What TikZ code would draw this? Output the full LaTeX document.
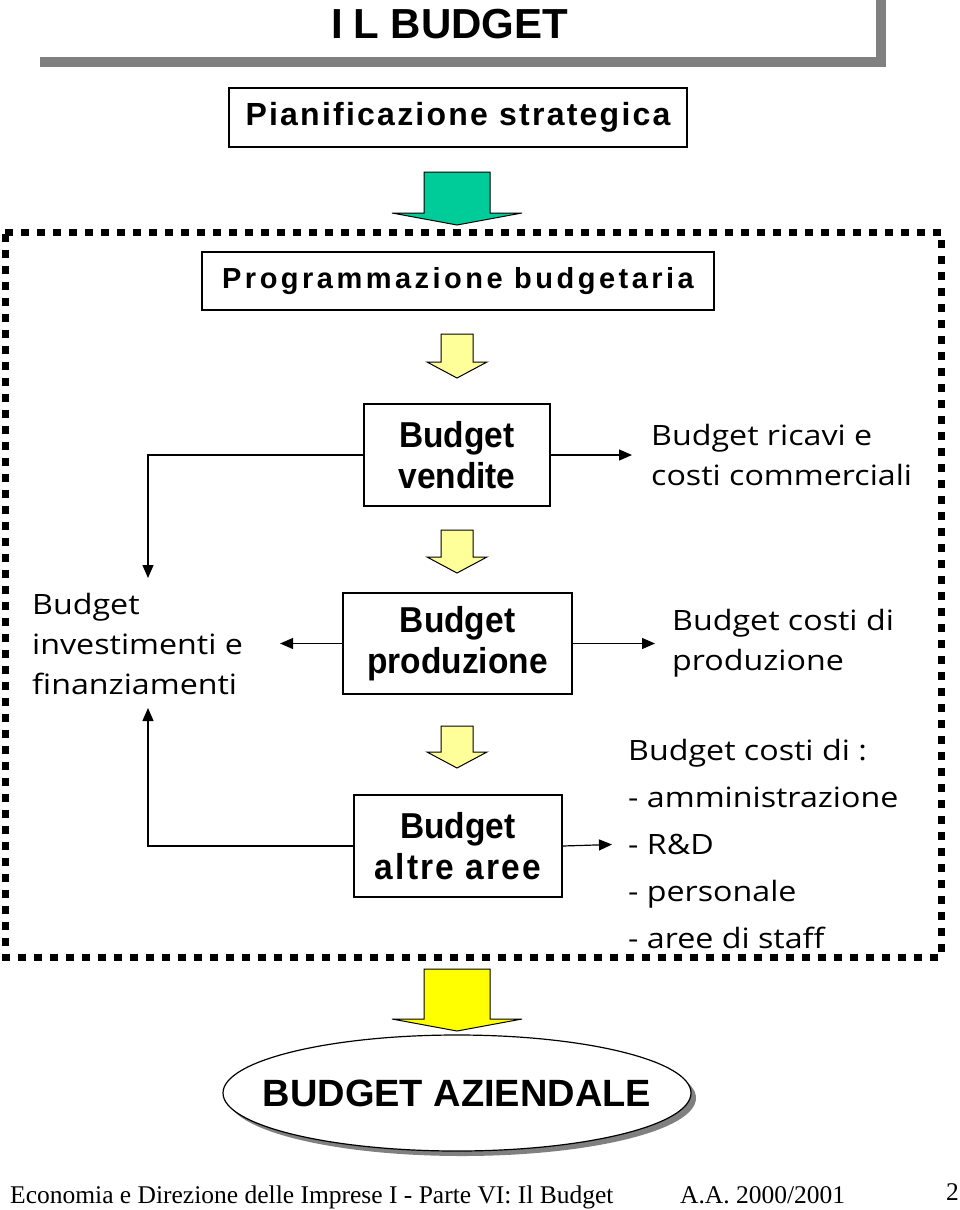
\documentclass[tikz,border=0pt]{standalone}
\usepackage{fontspec}
\setmainfont{Liberation Serif}
\newfontfamily\narrowbf[FakeStretch=0.93]{Liberation Sans Bold}
\newfontfamily\altbf[FakeStretch=0.93,LetterSpace=6]{Liberation Sans Bold}
\newfontfamily\widebf[LetterSpace=7]{Liberation Sans Bold}
\newfontfamily\widerbf[LetterSpace=12]{Liberation Sans Bold}
\newfontfamily\plainbf{Liberation Sans Bold}
\newfontfamily\handf[FakeStretch=1.15]{Open Sans}
\usetikzlibrary{arrows.meta,shapes.geometric,calc}
\definecolor{greenarr}{HTML}{00CC99}
\definecolor{paleyel}{HTML}{FFFF99}
\definecolor{brightyel}{HTML}{FFFF00}
\definecolor{shadowgrey}{HTML}{808080}
\tikzset{
  boxnode/.style={draw=black, line width=1.4pt, fill=white, inner sep=0pt, align=center, font=\narrowbf\fontsize{36}{41}\selectfont},
  hand/.style={inner sep=0pt, align=left, font=\handf\fontsize{28}{40}\selectfont},
  conn/.style={line width=1.2pt, -{Triangle[length=13pt,width=11pt]}},
  bigarrow/.style={draw=black, line width=1pt},
}
\begin{document}
\begin{tikzpicture}[x=1pt,y=-1pt]
\useasboundingbox (0,0) rectangle (960,1210);
% title shadow
\fill[shadowgrey] (40,57) rectangle (886,67);
\fill[shadowgrey] (876,0) rectangle (886,67);
\node (title) at (450,24) {\plainbf\fontsize{42}{48}\selectfont I\kern10pt L BUDGET};
% pianificazione
\node[boxnode, minimum width=458pt, minimum height=59pt, font=\widebf\fontsize{32}{40}\selectfont] (pian) at (458,117.5) {Pianificazione strategica};
% green arrow
\filldraw[bigarrow, fill=greenarr] (424,172) -- (490,172) -- (490,213) -- (522,213) -- (457,225) -- (392,213) -- (424,213) -- cycle;
% dotted frame
\draw[line width=7pt, dash pattern=on 8pt off 8pt] (5,232) -- (941,232) -- (941,957) -- (5,957) -- cycle;
% programmazione
\node[boxnode, minimum width=512pt, minimum height=58pt, font=\widerbf\fontsize{29}{40}\selectfont] (prog) at (458,281) {Programmazione budgetaria};
% yellow arrows
\foreach \ya/\yb/\yc in {334/362/378, 530/557/573, 726/752/768}{
  \filldraw[bigarrow, fill=paleyel] (441,\ya) -- (473,\ya) -- (473,\yb) -- (487,\yb) -- (457,\yc) -- (427,\yb) -- (441,\yb) -- cycle;
}
% boxes
\node[boxnode, minimum width=186pt, minimum height=102pt] (vend) at (457,455) {Budget\\vendite};
\node[boxnode, minimum width=229pt, minimum height=101pt] (prod) at (457.5,643.5) {Budget\\produzione};
\node[boxnode, minimum width=208pt, minimum height=102pt] (altre) at (458,846) {Budget\\{\altbf altre aree}};
% hand texts
\node[hand, anchor=west] (ricavi) at (651,455) {Budget ricavi e\\costi commerciali};
\node[hand, anchor=west] (inv) at (32,643.5) {Budget\\investimenti e\\finanziamenti};
\node[hand, anchor=west] (costip) at (672,643.5) {Budget costi di\\produzione};
\node[hand, anchor=west, font=\handf\fontsize{28}{47}\selectfont] (altri) at (628,844) {Budget costi di :\\- amministrazione\\- R\&D\\- personale\\- aree di staff};
% connectors
\coordinate (lt) at (148,578);
\coordinate (lb) at (148,708);
\draw[conn] (vend.east) -- (ricavi.west) [shorten >=19pt];
\draw[conn] (vend.west) -| (lt);
\draw[conn] (prod.west) -- (inv.east) [shorten >=37pt];
\draw[conn] (prod.east) -- (costip.west) [shorten >=17pt];
\draw[conn] (altre.west) -| (lb);
\draw[conn] (altre.east) -- (altri.west) [shorten >=16pt];
% bottom bright arrow
\filldraw[bigarrow, fill=brightyel] (424,969) -- (490,969) -- (490,1019) -- (522,1019) -- (457,1031) -- (392,1019) -- (424,1019) -- cycle;
% ellipse
\fill[shadowgrey] (462,1098) ellipse [x radius=234pt, y radius=58pt];
\node[ellipse, draw=black, line width=1.2pt, fill=white, minimum width=468pt, minimum height=116pt, inner sep=0pt] (azi) at (457,1093) {};
\node[inner sep=0pt, font=\plainbf\fontsize{38}{40}\selectfont] (azitext) at (azi.center) {BUDGET AZIENDALE};
% footer
\node[anchor=base west, inner sep=0pt, font=\fontsize{25.5}{30}\selectfont] (foot1) at (10,1203) {Economia e Direzione delle Imprese I - Parte VI: Il Budget};
\node[anchor=base west, inner sep=0pt, font=\fontsize{25.5}{30}\selectfont] (foot2) at (680,1203) {A.A. 2000/2001};
\node[anchor=base west, inner sep=0pt, font=\fontsize{25.5}{30}\selectfont] (foot3) at (946,1200) {2};
\end{tikzpicture}
\end{document}
